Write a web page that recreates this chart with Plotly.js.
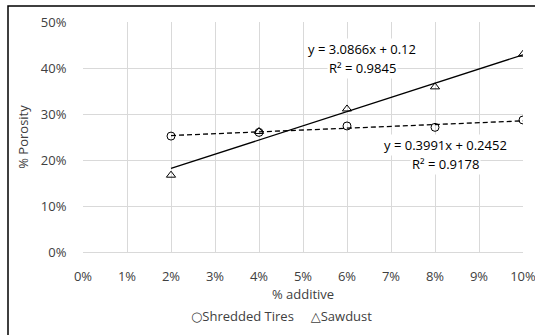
<!DOCTYPE html>
<html><head><meta charset="utf-8">
<script src="https://cdn.plot.ly/plotly-3.0.1.min.js"></script>
<style>html,body{margin:0;padding:0;background:#fff}#chart{width:535px;height:335px}</style>
</head><body><div id="chart"></div>
<script>
const additive = [0.02, 0.04, 0.06, 0.08, 0.10];
const tiresPorosity = [0.252, 0.260, 0.274, 0.271, 0.287];
const sawdustPorosity = [0.167, 0.262, 0.311, 0.359, 0.430];
const tiresFit = {slope: 0.3991, intercept: 0.2452, r2: 0.9178};
const sawdustFit = {slope: 3.0866, intercept: 0.12, r2: 0.9845};
const xTickVals = [0,0.01,0.02,0.03,0.04,0.05,0.06,0.07,0.08,0.09,0.10];
const yTickVals = [0,0.1,0.2,0.3,0.4,0.5];
const seriesNames = ['Shredded Tires', 'Sawdust'];

const FONT = '"Open Sans", sans-serif';
const FS = 13;
const TXT = '#404040';
const xMin = Math.min(...additive), xMax = Math.max(...additive);
const fitLine = f => ({x:[xMin, xMax], y:[f.intercept + f.slope*xMin, f.intercept + f.slope*xMax]});

const tl = fitLine(tiresFit), sl = fitLine(sawdustFit);
const traces = [
  {x: tl.x, y: tl.y, mode:'lines', line:{color:'#000', width:1.3, dash:'5px,3px'}, showlegend:false},
  {x: sl.x, y: sl.y, mode:'lines', line:{color:'#000', width:1.3}, showlegend:false},
  {x: additive, y: tiresPorosity, name:seriesNames[0], mode:'markers', showlegend:false,
   marker:{symbol:'circle-open', size:8, color:'#000', line:{width:1}}},
  {x: additive, y: sawdustPorosity, name:seriesNames[1], mode:'markers', showlegend:false,
   marker:{symbol:'triangle-up-open', size:8, color:'#000', line:{width:1}}}
];

const eq = f => 'y = ' + f.slope + 'x + ' + f.intercept;
const r2 = f => 'R² = ' + f.r2;
const px = v => (v-83)/440, py = v => (252-v)/230;
const ann = (x, y, text) => ({xref:'paper', yref:'paper', x:px(x), y:py(y), text, showarrow:false,
  bgcolor:'#fff', borderpad:1, font:{family:FONT, size:FS, color:'#000'}, xanchor:'center', yanchor:'middle'});

const layout = {
  width:535, height:335,
  margin:{l:83, r:12, t:22, b:83},
  paper_bgcolor:'#fff', plot_bgcolor:'#fff',
  font:{family:FONT, size:FS, color:TXT},
  showlegend:false,
  xaxis:{range:[0,0.10], tickvals:xTickVals, tickformat:'.0%', showgrid:true, gridcolor:'#d9d9d9', gridwidth:1,
    zeroline:false, showline:true, linecolor:'#d9d9d9', linewidth:1, ticklabeloverflow:'allow',
    ticks:'outside', ticklen:12, tickcolor:'rgba(0,0,0,0)',
    title:{text:'% additive', font:{family:FONT, size:FS, color:TXT}, standoff:6}},
  yaxis:{range:[0,0.5], tickvals:yTickVals, tickformat:'.0%', showgrid:true, gridcolor:'#d9d9d9', gridwidth:1,
    zeroline:false, showline:false,
    ticks:'outside', ticklen:13, tickcolor:'rgba(0,0,0,0)',
    title:{text:'% Porosity', font:{family:FONT, size:FS, color:TXT}, standoff:9}},
  annotations:[
    ann(362, 49, eq(sawdustFit)), ann(362, 68, r2(sawdustFit)),
    ann(445, 145, eq(tiresFit)), ann(445, 164, r2(tiresFit)),
    {xref:'paper', yref:'paper', x:px(281), y:py(316), xanchor:'center', yanchor:'middle', showarrow:false,
     text:'<span style="font-family:DejaVu Sans;font-size:13px">○</span>' + seriesNames[0] +
          '&nbsp;&nbsp;&nbsp;&nbsp;&nbsp;<span style="font-family:DejaVu Sans;font-size:13px">△</span>' + seriesNames[1],
     font:{family:FONT, size:FS, color:TXT}}
  ],
  shapes:[
    {type:'rect', xref:'paper', yref:'paper', x0:px(8), x1:1.3, y0:-0.8, y1:py(6),
     line:{color:'#000', width:1.5}, fillcolor:'rgba(0,0,0,0)', layer:'below'}
  ]
};
Plotly.newPlot('chart', traces, layout, {displayModeBar:false, staticPlot:true});
</script></body></html>
